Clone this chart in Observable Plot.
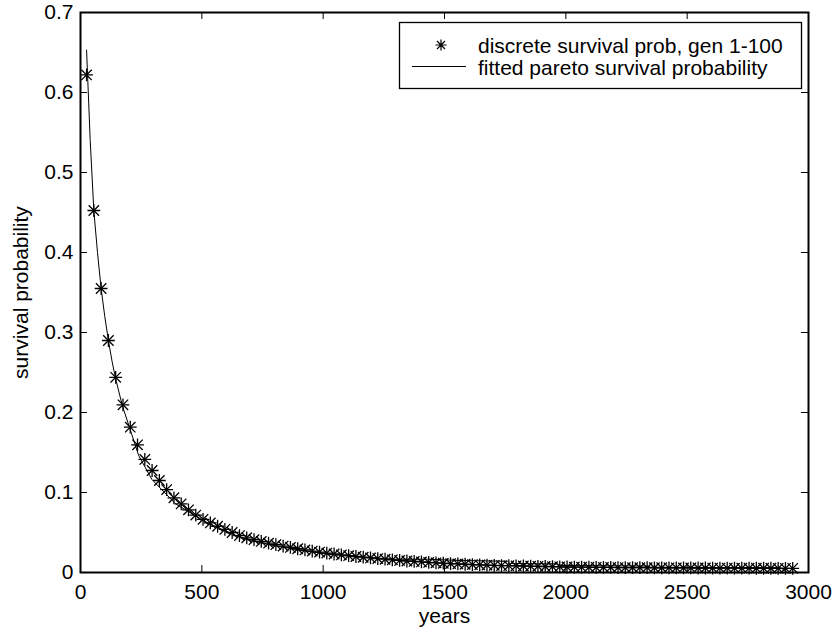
<!DOCTYPE html>
<html>
<head>
<meta charset="utf-8">
<script src="https://cdn.jsdelivr.net/npm/d3@7"></script>
<script src="https://cdn.jsdelivr.net/npm/@observablehq/plot@0.6"></script>
<style>
  html, body { margin: 0; padding: 0; background: white; overflow: hidden; }
  #chart { width: 836px; height: 635px; }
</style>
</head>
<body>
<div id="chart"></div>
<script>
// discrete survival probability, one value per generation (years)
const years = [
  25,55,85,115,145,175,205,235,265,295,
  325,355,385,415,445,475,505,535,565,595,
  625,655,685,715,745,775,805,835,865,895,
  925,955,985,1015,1045,1075,1105,1135,1165,1195,
  1225,1255,1285,1315,1345,1375,1405,1435,1465,1495,
  1525,1555,1585,1615,1645,1675,1705,1735,1765,1795,
  1825,1855,1885,1915,1945,1975,2005,2035,2065,2095,
  2125,2155,2185,2215,2245,2275,2305,2335,2365,2395,
  2425,2455,2485,2515,2545,2575,2605,2635,2665,2695,
  2725,2755,2785,2815,2845,2875,2905,2935
];
const survival = [
  0.622,0.4525,0.355,0.290,0.244,0.2096,0.1817,0.1596,0.1413,0.1275,
  0.1150,0.1037,0.0934,0.0858,0.0783,0.0718,0.0665,0.0620,0.0578,0.0540,
  0.0500,0.0462,0.0434,0.0410,0.0388,0.0367,0.0348,0.0330,0.0313,0.0297,
  0.0282,0.0268,0.0255,0.0243,0.0231,0.0220,0.0210,0.0200,0.0191,0.0182,
  0.0174,0.0166,0.0158,0.0151,0.0144,0.0138,0.0132,0.0126,0.0121,0.0116,
  0.0111,0.0107,0.0103,0.0099,0.0096,0.0093,0.0090,0.0087,0.0085,0.0083,
  0.0081,0.0079,0.0077,0.0075,0.0073,0.0071,0.0069,0.0068,0.0067,0.0066,
  0.0065,0.0064,0.0063,0.0062,0.0062,0.0061,0.0060,0.0060,0.0059,0.0059,
  0.0058,0.0058,0.0057,0.0057,0.0056,0.0056,0.0055,0.0055,0.0055,0.0054,
  0.0054,0.0054,0.0053,0.0053,0.0053,0.0052,0.0052,0.0052
];

// fitted pareto survival probability
const fitYears = [25,40,55,70,85,100,115,130,145,172,206,240,295,391,529,639,700,800,900,1000,1100,1200,1300,1430,1566,1760,1770,1966,1980,2336,2350,2885,2912];
const fitValues = [0.653,0.54,0.452,0.40,0.355,0.32,0.29,0.264,0.242,0.209,0.1775,0.146,0.116,0.086,0.0608,0.0462,0.040,0.0335,0.0282,0.024,0.0207,0.0183,0.0166,0.0166,0.0150,0.0140,0.0112,0.0108,0.0088,0.0080,0.0066,0.0060,0.0004];

const xTicks = [0,500,1000,1500,2000,2500,3000];
const yTicks = [0,0.1,0.2,0.3,0.4,0.5,0.6,0.7];

const xLabel = "years";
const yLabel = "survival probability";
const legendLabels = ["discrete survival prob, gen 1-100", "fitted pareto survival probability"];

const points = years.map((t, i) => ({t, p: survival[i]}));
const fit = fitYears.map((t, i) => ({t, p: fitValues[i]}));

const W = 836, H = 635;
const mL = 80, mR = 28, mT = 12, mB = 63;
const plotH = H - mT - mB, plotW = W - mL - mR;
const tickLen = 7;
const FS = 21;
const FONT = "'Liberation Sans', Arial, sans-serif";

const svg = Plot.plot({
  width: W,
  height: H,
  marginLeft: mL,
  marginRight: mR,
  marginTop: mT,
  marginBottom: mB,
  style: {fontFamily: FONT, fontSize: FS + "px", color: "black", background: "white"},
  x: {domain: [0, 3000]},
  y: {domain: [0, 0.7]},
  marks: [
    // inward ticks on all four sides
    Plot.tickX(xTicks, {x: d => d, insetTop: plotH - tickLen, stroke: "black", strokeWidth: 1}),
    Plot.tickX(xTicks, {x: d => d, insetBottom: plotH - tickLen, stroke: "black", strokeWidth: 1}),
    Plot.tickY(yTicks, {y: d => d, insetRight: plotW - tickLen, stroke: "black", strokeWidth: 1}),
    Plot.tickY(yTicks, {y: d => d, insetLeft: plotW - tickLen, stroke: "black", strokeWidth: 1}),
    Plot.axisX(xTicks, {tickSize: 0, tickPadding: 12, fontSize: FS, label: null, tickFormat: d => String(d)}),
    Plot.axisY(yTicks, {tickSize: 0, tickPadding: 7, fontSize: FS, label: null, tickFormat: d => String(d)}),
    Plot.line(fit, {x: "t", y: "p", stroke: "black", strokeWidth: 1}),
    Plot.dot(points, {x: "t", y: "p", symbol: "plus", r: 4.2, stroke: "black", strokeWidth: 1.3}),
    Plot.dot(points, {x: "t", y: "p", symbol: "times", r: 4.8, stroke: "black", strokeWidth: 1.3}),
    Plot.frame({stroke: "black", strokeWidth: 2}),
    Plot.text([xLabel], {frameAnchor: "bottom", dy: 43.3, lineAnchor: "middle", textAnchor: "middle", fontSize: FS, fill: "black"}),
    Plot.text([yLabel], {frameAnchor: "left", dx: -59, rotate: -90, lineAnchor: "middle", textAnchor: "middle", fontSize: FS, fill: "black"})
  ]
});

// legend box (top-right, inside the axes)
const g = d3.select(svg).append("g")
  .attr("font-size", FS).attr("font-family", FONT).attr("text-anchor", "start");
g.append("rect").attr("x", 399.5).attr("y", 22.5).attr("width", 402).attr("height", 66)
  .attr("fill", "white").attr("stroke", "black").attr("stroke-width", 1.3);
const sx = 441, sy = 45;
const starPath = d3.path();
starPath.moveTo(sx - 5.5, sy); starPath.lineTo(sx + 5.5, sy);
starPath.moveTo(sx, sy - 5.5); starPath.lineTo(sx, sy + 5.5);
starPath.moveTo(sx - 4, sy - 4); starPath.lineTo(sx + 4, sy + 4);
starPath.moveTo(sx - 4, sy + 4); starPath.lineTo(sx + 4, sy - 4);
g.append("path").attr("d", starPath.toString()).attr("stroke", "black").attr("stroke-width", 1.2).attr("fill", "none");
g.append("line").attr("x1", 412).attr("x2", 466).attr("y1", 66.5).attr("y2", 66.5).attr("stroke", "black").attr("stroke-width", 1);
g.append("text").attr("x", 478).attr("y", 53).attr("text-anchor", "start").text(legendLabels[0]);
g.append("text").attr("x", 478).attr("y", 75).attr("text-anchor", "start").text(legendLabels[1]);

document.getElementById("chart").appendChild(svg);
</script>
</body>
</html>
